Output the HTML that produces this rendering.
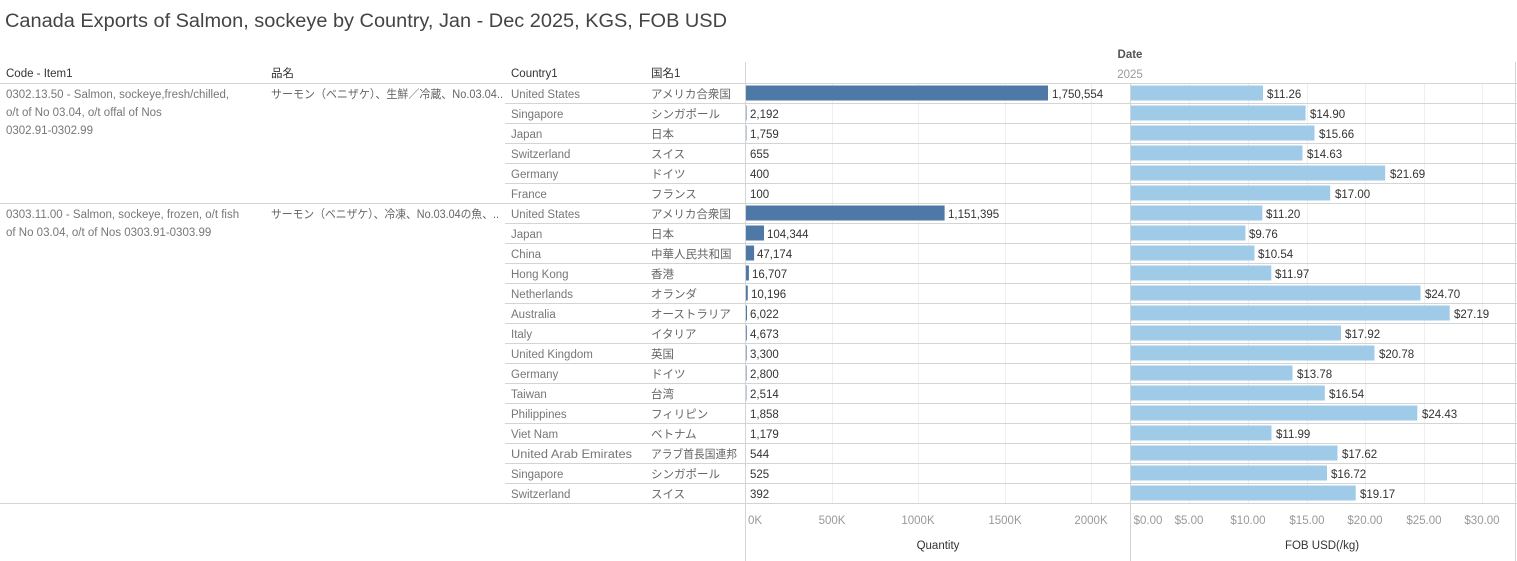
<!DOCTYPE html>
<html><head><meta charset="utf-8"><style>
body{margin:0;background:#fff;}
svg{display:block;font-family:"Liberation Sans","Noto Sans CJK JP",sans-serif;}
.h{font-size:11.5px;fill:#333;}
.t{font-size:11.5px;fill:#777;}
.c{font-size:11.5px;fill:#666;}
.v{font-size:11.5px;fill:#333;}
.ax{font-size:11.5px;fill:#999;}
</style></head><body>
<svg width="1517" height="561" viewBox="0 0 1517 561">
<text x="5" y="27" textLength="722" lengthAdjust="spacingAndGlyphs" style="font-size:19px;fill:#444">Canada Exports of Salmon, sockeye by Country, Jan - Dec 2025, KGS, FOB USD</text>
<text x="1130" y="58" text-anchor="middle" class="h" style="font-weight:bold;fill:#555">Date</text>
<text x="1130" y="78" text-anchor="middle" class="ax">2025</text>
<text x="6" y="77" class="h">Code - Item1</text>
<text x="271" y="77" class="h">品名</text>
<text x="511" y="77" class="h">Country1</text>
<text x="651" y="77" class="h">国名1</text>
<g stroke="#efefef" stroke-width="1">
<line x1="832.5" y1="84" x2="832.5" y2="503"/><line x1="918.5" y1="84" x2="918.5" y2="503"/><line x1="1005.5" y1="84" x2="1005.5" y2="503"/><line x1="1091.5" y1="84" x2="1091.5" y2="503"/>
<line x1="1189.5" y1="84" x2="1189.5" y2="503"/><line x1="1248.5" y1="84" x2="1248.5" y2="503"/><line x1="1307.5" y1="84" x2="1307.5" y2="503"/><line x1="1365.5" y1="84" x2="1365.5" y2="503"/><line x1="1424.5" y1="84" x2="1424.5" y2="503"/><line x1="1482.5" y1="84" x2="1482.5" y2="503"/>
</g>
<g stroke="#d4d4d4" stroke-width="1">
<line x1="0" y1="83.5" x2="1517" y2="83.5"/>
<line x1="0" y1="203.5" x2="1517" y2="203.5"/>
<line x1="0" y1="503.5" x2="1517" y2="503.5"/>
<line x1="505" y1="103.5" x2="1517" y2="103.5"/><line x1="505" y1="123.5" x2="1517" y2="123.5"/><line x1="505" y1="143.5" x2="1517" y2="143.5"/><line x1="505" y1="163.5" x2="1517" y2="163.5"/><line x1="505" y1="183.5" x2="1517" y2="183.5"/>
<line x1="505" y1="223.5" x2="1517" y2="223.5"/><line x1="505" y1="243.5" x2="1517" y2="243.5"/><line x1="505" y1="263.5" x2="1517" y2="263.5"/><line x1="505" y1="283.5" x2="1517" y2="283.5"/><line x1="505" y1="303.5" x2="1517" y2="303.5"/><line x1="505" y1="323.5" x2="1517" y2="323.5"/><line x1="505" y1="343.5" x2="1517" y2="343.5"/><line x1="505" y1="363.5" x2="1517" y2="363.5"/><line x1="505" y1="383.5" x2="1517" y2="383.5"/><line x1="505" y1="403.5" x2="1517" y2="403.5"/><line x1="505" y1="423.5" x2="1517" y2="423.5"/><line x1="505" y1="443.5" x2="1517" y2="443.5"/><line x1="505" y1="463.5" x2="1517" y2="463.5"/><line x1="505" y1="483.5" x2="1517" y2="483.5"/>
<line x1="745.5" y1="62" x2="745.5" y2="561"/>
<line x1="1130.5" y1="84" x2="1130.5" y2="561"/>
<line x1="1515.5" y1="62" x2="1515.5" y2="561"/>
</g>
<text class="t"><tspan x="6" y="98">0302.13.50 - Salmon, sockeye,fresh/chilled,</tspan><tspan x="6" y="116">o/t of No 03.04, o/t offal of Nos</tspan><tspan x="6" y="134">0302.91-0302.99</tspan></text>
<text x="271" y="98" class="c" textLength="232" lengthAdjust="spacingAndGlyphs">サーモン（ベニザケ）、生鮮／冷蔵、No.03.04..</text>
<text class="t"><tspan x="6" y="218">0303.11.00 - Salmon, sockeye, frozen, o/t fish</tspan><tspan x="6" y="236">of No 03.04, o/t of Nos 0303.91-0303.99</tspan></text>
<text x="271" y="218" class="c" textLength="228" lengthAdjust="spacingAndGlyphs">サーモン（ベニザケ）、冷凍、No.03.04の魚、..</text>
<g class="t">
<text x="511" y="98">United States</text><text x="511" y="118">Singapore</text><text x="511" y="138">Japan</text><text x="511" y="158">Switzerland</text><text x="511" y="178">Germany</text><text x="511" y="198">France</text>
<text x="511" y="218">United States</text><text x="511" y="238">Japan</text><text x="511" y="258">China</text><text x="511" y="278">Hong Kong</text><text x="511" y="298">Netherlands</text><text x="511" y="318">Australia</text><text x="511" y="338">Italy</text><text x="511" y="358">United Kingdom</text><text x="511" y="378">Germany</text><text x="511" y="398">Taiwan</text><text x="511" y="418">Philippines</text><text x="511" y="438">Viet Nam</text><text x="511" y="458" textLength="121" lengthAdjust="spacingAndGlyphs">United Arab Emirates</text><text x="511" y="478">Singapore</text><text x="511" y="498">Switzerland</text>
</g>
<g class="c">
<text x="651" y="98">アメリカ合衆国</text><text x="651" y="118">シンガポール</text><text x="651" y="138">日本</text><text x="651" y="158">スイス</text><text x="651" y="178">ドイツ</text><text x="651" y="198">フランス</text>
<text x="651" y="218">アメリカ合衆国</text><text x="651" y="238">日本</text><text x="651" y="258">中華人民共和国</text><text x="651" y="278">香港</text><text x="651" y="298">オランダ</text><text x="651" y="318">オーストラリア</text><text x="651" y="338">イタリア</text><text x="651" y="358">英国</text><text x="651" y="378">ドイツ</text><text x="651" y="398">台湾</text><text x="651" y="418">フィリピン</text><text x="651" y="438">ベトナム</text><text x="651" y="458" textLength="86" lengthAdjust="spacingAndGlyphs">アラブ首長国連邦</text><text x="651" y="478">シンガポール</text><text x="651" y="498">スイス</text>
</g>
<g fill="#4e79a7">
<rect x="746" y="85.5" width="302" height="15"/><rect x="746" y="105.5" width="0.5" height="15"/><rect x="746" y="125.5" width="0.4" height="15"/>
<rect x="746" y="205.5" width="198.6" height="15"/><rect x="746" y="225.5" width="18" height="15"/><rect x="746" y="245.5" width="8.1" height="15"/><rect x="746" y="265.5" width="2.9" height="15"/><rect x="746" y="285.5" width="1.8" height="15"/><rect x="746" y="305.5" width="1" height="15"/><rect x="746" y="325.5" width="0.8" height="15"/><rect x="746" y="345.5" width="0.6" height="15"/><rect x="746" y="365.5" width="0.5" height="15"/><rect x="746" y="385.5" width="0.4" height="15"/>
</g>
<g class="v">
<text x="1052" y="98">1,750,554</text><text x="750" y="118">2,192</text><text x="750" y="138">1,759</text><text x="750" y="158">655</text><text x="750" y="178">400</text><text x="750" y="198">100</text>
<text x="948" y="218">1,151,395</text><text x="767" y="238">104,344</text><text x="757" y="258">47,174</text><text x="752" y="278">16,707</text><text x="751" y="298">10,196</text><text x="750" y="318">6,022</text><text x="750" y="338">4,673</text><text x="750" y="358">3,300</text><text x="750" y="378">2,800</text><text x="750" y="398">2,514</text><text x="750" y="418">1,858</text><text x="750" y="438">1,179</text><text x="750" y="458">544</text><text x="750" y="478">525</text><text x="750" y="498">392</text>
</g>
<g fill="#a0cbe8">
<rect x="1131" y="85.5" width="132" height="15"/><rect x="1131" y="105.5" width="174.6" height="15"/><rect x="1131" y="125.5" width="183.5" height="15"/><rect x="1131" y="145.5" width="171.5" height="15"/><rect x="1131" y="165.5" width="254.2" height="15"/><rect x="1131" y="185.5" width="199.2" height="15"/>
<rect x="1131" y="205.5" width="131.3" height="15"/><rect x="1131" y="225.5" width="114.4" height="15"/><rect x="1131" y="245.5" width="123.5" height="15"/><rect x="1131" y="265.5" width="140.3" height="15"/><rect x="1131" y="285.5" width="289.5" height="15"/><rect x="1131" y="305.5" width="318.7" height="15"/><rect x="1131" y="325.5" width="210" height="15"/><rect x="1131" y="345.5" width="243.5" height="15"/><rect x="1131" y="365.5" width="161.5" height="15"/><rect x="1131" y="385.5" width="193.8" height="15"/><rect x="1131" y="405.5" width="286.3" height="15"/><rect x="1131" y="425.5" width="140.5" height="15"/><rect x="1131" y="445.5" width="206.5" height="15"/><rect x="1131" y="465.5" width="196" height="15"/><rect x="1131" y="485.5" width="224.7" height="15"/>
</g>
<g class="v">
<text x="1267" y="98">$11.26</text><text x="1310" y="118">$14.90</text><text x="1319" y="138">$15.66</text><text x="1307" y="158">$14.63</text><text x="1390" y="178">$21.69</text><text x="1335" y="198">$17.00</text>
<text x="1266" y="218">$11.20</text><text x="1249" y="238">$9.76</text><text x="1258" y="258">$10.54</text><text x="1275" y="278">$11.97</text><text x="1425" y="298">$24.70</text><text x="1454" y="318">$27.19</text><text x="1345" y="338">$17.92</text><text x="1379" y="358">$20.78</text><text x="1297" y="378">$13.78</text><text x="1329" y="398">$16.54</text><text x="1422" y="418">$24.43</text><text x="1276" y="438">$11.99</text><text x="1342" y="458">$17.62</text><text x="1331" y="478">$16.72</text><text x="1360" y="498">$19.17</text>
</g>
<g class="ax" text-anchor="middle">
<text x="755" y="524">0K</text><text x="832" y="524">500K</text><text x="918" y="524">1000K</text><text x="1005" y="524">1500K</text><text x="1091" y="524">2000K</text>
<text x="1148" y="524">$0.00</text><text x="1189" y="524">$5.00</text><text x="1248" y="524">$10.00</text><text x="1307" y="524">$15.00</text><text x="1365" y="524">$20.00</text><text x="1424" y="524">$25.00</text><text x="1482" y="524">$30.00</text>
</g>
<text x="938" y="549" text-anchor="middle" class="h">Quantity</text>
<text x="1322" y="549" text-anchor="middle" class="h">FOB USD(/kg)</text>
</svg>
</body></html>
